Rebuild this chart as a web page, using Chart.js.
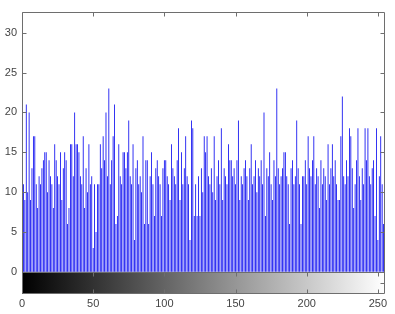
<!DOCTYPE html>
<html>
<head>
<meta charset="utf-8">
<script src="https://cdn.jsdelivr.net/npm/chart.js@4.4.1/dist/chart.umd.min.js"></script>
<style>
  html, body { margin: 0; padding: 0; background: #fff; }
  canvas { display: block; }
</style>
</head>
<body>
<canvas id="hist" width="395" height="314"></canvas>
<script>
// histogram counts for grey levels 0..255
const counts = [
   6, 11,  9, 21, 10, 20,  9, 13, 17, 17, 11,  8, 12, 11, 13, 14,
  15, 15, 10, 14, 12, 11,  8, 16, 14, 12, 11, 15,  9, 13, 15, 14,
   6,  8, 16, 16, 12, 20, 16, 16, 15, 12, 11, 17,  8, 13, 10, 16,
  11, 12,  3, 11,  5, 11, 11, 16, 13, 17, 14, 20, 12, 23, 11, 14,
  17, 21,  6,  7, 16, 12, 11, 15, 15, 13, 15, 19, 12, 11, 16,  4,
  13, 14, 11, 12, 10, 17,  6, 14, 14,  6, 12, 15, 11,  7, 13, 14,
  12, 11,  7, 13, 14, 14, 12, 11,  9, 16, 13, 12, 11, 14, 18,  9,
  15, 11, 13, 17, 12, 11,  4, 19, 18,  7, 11,  7, 12,  7, 13, 10,
  17, 15, 17, 12, 11, 13, 10, 17,  9, 12, 14, 11, 18,  9, 13, 12,
  11, 16, 14, 14, 12, 13, 11, 14, 19,  9, 12, 11, 13, 14, 12,  9,
  13, 16, 11, 12, 14, 10, 13, 12, 14, 11, 20,  7, 13, 12, 15, 11,
   9, 14, 12, 23, 13, 11, 12, 13, 15, 15, 12, 11,  6, 13, 14, 11,
  12, 19, 13, 11,  6, 12, 12, 14, 11, 17, 13, 12, 14, 17, 11, 13,
  12,  8, 14, 11, 13, 12,  9, 16, 11, 13, 16, 12, 14, 11,  9,  9,
  17, 22, 12, 11, 14, 12, 18, 17, 13,  8, 11, 14, 18, 12,  9, 13,
  11, 18, 14, 18, 12, 11, 13, 14,  7, 18,  4, 12, 17, 11,  6, 14
];
const xTicks = [0, 50, 100, 150, 200, 250];
const yTicks = [0, 5, 10, 15, 20, 25, 30];

const lineColor = '#6e6e6e';
const textColor = '#444';

// colour bar under the histogram + matlab style box with inner ticks
const axesBox = {
  id: 'axesBox',
  beforeDatasetsDraw(chart) {
    const { ctx, chartArea: ca, scales: { x, y } } = chart;
    const y0 = y.getPixelForValue(0);
    const g = ctx.createLinearGradient(x.getPixelForValue(0), 0, x.getPixelForValue(255), 0);
    g.addColorStop(0, '#000');
    g.addColorStop(1, '#fff');
    ctx.save();
    ctx.fillStyle = g;
    ctx.fillRect(ca.left, y0, ca.right - ca.left, ca.bottom - y0);
    ctx.restore();
  },
  afterDraw(chart) {
    const { ctx, chartArea: ca, scales: { x, y } } = chart;
    const y0 = Math.round(y.getPixelForValue(0)) + 0.5;
    const L = Math.round(ca.left) + 0.5, R = Math.round(ca.right) - 0.5;
    const T = Math.round(ca.top) + 0.5, B = Math.round(ca.bottom) - 0.5;
    ctx.save();
    ctx.strokeStyle = lineColor;
    ctx.lineWidth = 1;
    ctx.beginPath();
    ctx.rect(L, T, R - L, B - T);
    ctx.moveTo(L, y0); ctx.lineTo(R, y0);
    yTicks.forEach(v => {
      const p = Math.round(y.getPixelForValue(v)) + 0.5;
      ctx.moveTo(L, p); ctx.lineTo(L + 4, p);
      ctx.moveTo(R, p); ctx.lineTo(R - 4, p);
    });
    xTicks.forEach(v => {
      const p = Math.round(x.getPixelForValue(v)) + 0.5;
      ctx.moveTo(p, T); ctx.lineTo(p, T + 4);
      ctx.moveTo(p, y0); ctx.lineTo(p, y0 + 4);
      ctx.moveTo(p, B); ctx.lineTo(p, B - 4);
    });
    // colour bar side ticks
    const ym = Math.round((y0 + B) / 2) + 0.5;
    ctx.moveTo(R, ym); ctx.lineTo(R - 4, ym);
    ctx.stroke();
    ctx.restore();
  }
};

new Chart(document.getElementById('hist'), {
  type: 'bar',
  data: {
    datasets: [{
      data: counts.map((c, i) => ({ x: i, y: c })),
      backgroundColor: '#0000f0',
      borderWidth: 0,
      inflateAmount: 0,
      barThickness: 0.8
    }]
  },
  options: {
    responsive: false,
    animation: false,
    events: [],
    layout: { padding: { top: 7, right: 10, left: 0, bottom: 0 } },
    plugins: { legend: { display: false }, tooltip: { enabled: false } },
    scales: {
      x: {
        type: 'linear',
        offset: false,
        min: 0,
        max: 255,
        grid: { display: false, drawTicks: false },
        border: { display: false },
        afterBuildTicks: s => { s.ticks = xTicks.map(v => ({ value: v })); },
        afterFit: s => { s.height = 20; },
        ticks: {
          padding: 3,
          maxRotation: 0,
          autoSkip: false,
          color: textColor,
          font: { family: 'Liberation Sans, Arial, sans-serif', size: 11 }
        }
      },
      y: {
        min: -2.78,
        max: 32.65,
        grid: { display: false, drawTicks: false },
        border: { display: false },
        afterBuildTicks: s => { s.ticks = yTicks.map(v => ({ value: v })); },
        afterFit: s => { s.width = 22; },
        ticks: {
          padding: 5,
          color: textColor,
          font: { family: 'Liberation Sans, Arial, sans-serif', size: 11 }
        }
      }
    }
  },
  plugins: [axesBox]
});
</script>
</body>
</html>
